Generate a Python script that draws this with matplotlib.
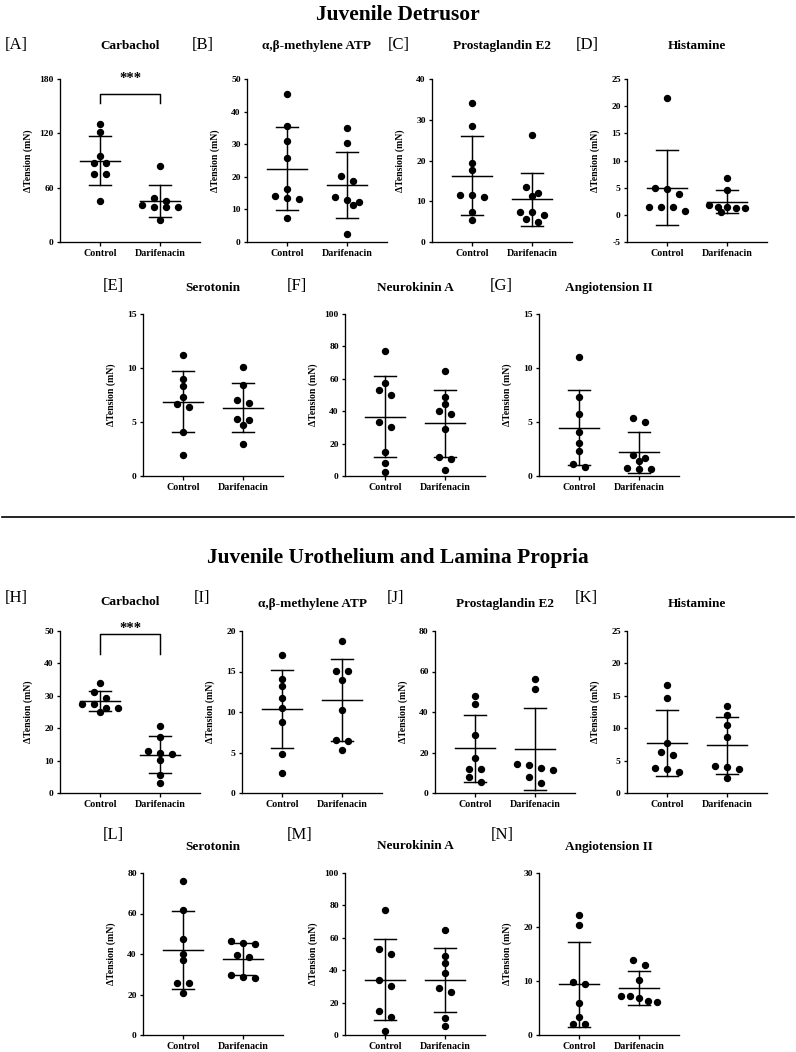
import matplotlib
matplotlib.use('Agg')
import matplotlib.pyplot as plt
from matplotlib.lines import Line2D

plt.rcParams['font.family'] = ['Liberation Serif', 'DejaVu Serif']

groups = ['Control', 'Darifenacin']

# ---- Juvenile detrusor ----
A_ctrl = [130.8, 122.0, 95.0, 87.6, 87.6, 75.4, 74.6, 45.8]
A_dari = [84.3, 48.8, 45.1, 40.6, 38.4, 38.4, 38.4, 24.8]
A_mean = [90.0, 45.1]
A_sd = [26.8, 17.4]

B_ctrl = [45.4, 35.6, 30.9, 25.8, 16.2, 14.1, 13.1, 13.4, 7.4]
B_dari = [35.0, 30.4, 20.1, 18.6, 12.9, 13.9, 11.3, 12.2, 2.4]
B_mean = [22.5, 17.5]
B_sd = [12.7, 10.05]

C_ctrl = [34.2, 28.5, 19.4, 17.7, 11.5, 11.0, 11.5, 7.4, 5.4]
C_dari = [26.2, 13.4, 12.0, 11.3, 7.4, 7.4, 6.6, 5.7, 4.9]
C_mean = [16.3, 10.5]
C_sd = [9.7, 6.55]

D_ctrl = [21.5, 4.9, 3.9, 4.75, 0.74, 1.5, 1.36, 1.5]
D_dari = [6.8, 4.6, 1.2, 1.5, 1.3, 1.36, 1.9, 0.55]
D_mean = [5.0, 2.4]
D_sd = [6.85, 2.1]

E_ctrl = [11.17, 8.98, 8.33, 7.28, 6.39, 6.67, 4.1, 1.98]
E_dari = [10.1, 8.43, 7.04, 6.76, 5.19, 5.28, 4.72, 2.93]
E_mean = [6.88, 6.33]
E_sd = [2.85, 2.25]

F_ctrl = [77.4, 57.6, 53.1, 49.8, 33.5, 30.5, 14.6, 8.2, 2.7]
F_dari = [64.8, 49.0, 44.4, 38.1, 40.3, 28.8, 11.5, 10.3, 3.7]
F_mean = [36.6, 32.5]
F_sd = [25.0, 20.6]

G_ctrl = [11.06, 7.36, 5.76, 4.03, 3.05, 2.34, 1.14, 0.86]
G_dari = [4.99, 5.39, 1.97, 1.66, 1.39, 0.68, 0.77, 0.68]
G_mean = [4.47, 2.22]
G_sd = [3.48, 1.9]

# ---- Juvenile urothelium and lamina propria ----
H_ctrl = [34.05, 31.1, 29.4, 27.6, 27.6, 25.0, 26.1, 26.2]
H_dari = [20.8, 17.2, 11.9, 12.3, 13.0, 10.3, 5.45, 3.0]
H_mean = [28.4, 11.8]
H_sd = [3.0, 5.77]

I_ctrl = [17.08, 14.1, 13.2, 11.77, 10.53, 8.72, 4.86, 2.51]
I_dari = [18.72, 15.1, 15.1, 13.9, 10.2, 6.58, 6.46, 5.27]
I_mean = [10.41, 11.44]
I_sd = [4.8, 5.05]

J_ctrl = [47.95, 43.8, 28.7, 17.1, 11.8, 11.8, 7.7, 5.6]
J_dari = [56.5, 51.4, 12.5, 14.3, 11.5, 13.6, 7.7, 5.1]
J_mean = [22.0, 21.7]
J_sd = [16.5, 20.2]

K_ctrl = [16.7, 14.6, 6.3, 7.65, 5.85, 3.9, 3.7, 3.3]
K_dari = [13.4, 12.06, 10.5, 8.57, 4.1, 4.05, 3.64, 2.26]
K_mean = [7.75, 7.34]
K_sd = [5.1, 4.36]

L_ctrl = [76.2, 61.6, 47.6, 40.2, 36.9, 25.8, 25.8, 20.5]
L_dari = [46.5, 44.8, 45.5, 39.4, 38.3, 28.1, 29.6, 28.4]
L_mean = [41.9, 37.6]
L_sd = [19.3, 7.8]

M_ctrl = [77.4, 53.0, 49.9, 33.9, 30.2, 14.8, 11.1, 2.5]
M_dari = [64.7, 48.9, 44.6, 38.4, 26.5, 29.0, 10.3, 5.7]
M_mean = [34.1, 33.7]
M_sd = [24.95, 19.8]

N_ctrl = [22.16, 20.3, 9.38, 9.88, 5.86, 3.33, 2.04, 2.04]
N_dari = [13.83, 12.96, 10.25, 6.3, 7.16, 6.79, 7.16, 6.17]
N_mean = [9.38, 8.77]
N_sd = [7.9, 3.15]

# significance brackets (bar top, arm end)
A_bracket = [163.3, 153.0]
H_bracket = [49.0, 42.8]

titles = {
    'A': 'Carbachol', 'B': 'α,β-methylene ATP', 'C': 'Prostaglandin E2',
    'D': 'Histamine', 'E': 'Serotonin', 'F': 'Neurokinin A', 'G': 'Angiotension II',
    'H': 'Carbachol', 'I': 'α,β-methylene ATP', 'J': 'Prostaglandin E2',
    'K': 'Histamine', 'L': 'Serotonin', 'M': 'Neurokinin A', 'N': 'Angiotension II',
}

yticks = {
    'A': [0, 60, 120, 180], 'B': [0, 10, 20, 30, 40, 50], 'C': [0, 10, 20, 30, 40],
    'D': [-5, 0, 5, 10, 15, 20, 25], 'E': [0, 5, 10, 15], 'F': [0, 20, 40, 60, 80, 100],
    'G': [0, 5, 10, 15], 'H': [0, 10, 20, 30, 40, 50], 'I': [0, 5, 10, 15, 20],
    'J': [0, 20, 40, 60, 80], 'K': [0, 5, 10, 15, 20, 25], 'L': [0, 20, 40, 60, 80],
    'M': [0, 20, 40, 60, 80, 100], 'N': [0, 10, 20, 30],
}

panels = {
    'A': (A_ctrl, A_dari, A_mean, A_sd), 'B': (B_ctrl, B_dari, B_mean, B_sd),
    'C': (C_ctrl, C_dari, C_mean, C_sd), 'D': (D_ctrl, D_dari, D_mean, D_sd),
    'E': (E_ctrl, E_dari, E_mean, E_sd), 'F': (F_ctrl, F_dari, F_mean, F_sd),
    'G': (G_ctrl, G_dari, G_mean, G_sd), 'H': (H_ctrl, H_dari, H_mean, H_sd),
    'I': (I_ctrl, I_dari, I_mean, I_sd), 'J': (J_ctrl, J_dari, J_mean, J_sd),
    'K': (K_ctrl, K_dari, K_mean, K_sd), 'L': (L_ctrl, L_dari, L_mean, L_sd),
    'M': (M_ctrl, M_dari, M_mean, M_sd), 'N': (N_ctrl, N_dari, N_mean, N_sd),
}

# layout in pixels: axes left, axes top, axes bottom, title y, letter x, letter y
W, H = 796, 1052
AX_W = 140
layout = {
    'A': (60, 79, 242, 46, 16, 45), 'B': (247, 79, 242, 46, 203, 45),
    'C': (432, 79, 242, 46, 399, 45), 'D': (627, 79, 242, 46, 587, 45),
    'E': (143, 314, 476, 288, 113, 286), 'F': (345, 314, 476, 288, 297, 286),
    'G': (539, 314, 476, 288, 501, 286),
    'H': (60, 631, 793, 602, 16, 598), 'I': (242, 631, 793, 604, 202, 598),
    'J': (435, 631, 793, 604, 396, 598), 'K': (627, 631, 793, 604, 586, 598),
    'L': (143, 873, 1035, 847, 113, 835), 'M': (345, 873, 1035, 846, 300, 835),
    'N': (539, 873, 1035, 847, 502, 835),
}

PX_PER_CAT = 60.0  # pixels between the two groups


def swarm(vals, ppu, step=11.8, diam=5.8, thresh=6.0):
    # rows of nearly equal values are spread sideways and centred
    order = sorted(range(len(vals)), key=lambda i: -vals[i])
    clusters = []
    for i in order:
        if clusters and (vals[clusters[-1][0]] - vals[i]) * ppu < thresh:
            clusters[-1].append(i)
        else:
            clusters.append([i])
    offs = {}
    for c in clusters:
        n = len(c)
        s = min(step, 36.0 / (n - 1)) if n > 1 else 0
        base = [(k - (n - 1) / 2) * s for k in range(n)]
        for shift in [0, step / 2, -step / 2, step, -step, 1.5 * step, -1.5 * step]:
            ok = all((base[k] + shift - offs[j]) ** 2 + ((vals[i] - vals[j]) * ppu) ** 2 >= diam ** 2
                     for k, i in enumerate(c) for j in offs)
            if ok:
                break
        for k, i in enumerate(c):
            offs[i] = base[k] + shift
    return [offs[i] / PX_PER_CAT for i in range(len(vals))]


fig = plt.figure(figsize=(W / 100, H / 100), dpi=100)


def fy(y):
    return 1 - y / H


for key, (ctrl, dari, mean, sd) in panels.items():
    left, top, bottom, ty, lx, ly = layout[key]
    ax = fig.add_axes([left / W, fy(bottom), AX_W / W, (bottom - top) / H])
    ticks = yticks[key]
    lo, hi = ticks[0], ticks[-1]
    ax.set_xlim(-40 / PX_PER_CAT, 1 + 40 / PX_PER_CAT)
    ax.set_ylim(lo, hi)
    ppu = (bottom - top) / (hi - lo)

    for gi, vals in enumerate([ctrl, dari]):
        offs = swarm(vals, ppu)
        ax.plot([gi + o for o in offs], vals, 'o', color='black', ms=4.3,
                mec='black', clip_on=False, zorder=3)
        m, s = mean[gi], sd[gi]
        ax.plot([gi - 0.333, gi + 0.333], [m, m], color='black', lw=1.05, zorder=2)
        ax.plot([gi, gi], [m - s, m + s], color='black', lw=1.05, zorder=2)
        ax.plot([gi - 0.183, gi + 0.183], [m + s, m + s], color='black', lw=1.05, zorder=2)
        ax.plot([gi - 0.183, gi + 0.183], [m - s, m - s], color='black', lw=1.05, zorder=2)

    for sp in ['top', 'right']:
        ax.spines[sp].set_visible(False)
    for sp in ['left', 'bottom']:
        ax.spines[sp].set_linewidth(0.95)

    ax.set_yticks(ticks)
    ax.set_yticklabels([str(t) for t in ticks], fontsize=6.8, fontweight='bold')
    ax.set_xticks([0, 1])
    ax.set_xticklabels(groups, fontsize=7.2, fontweight='bold')
    ax.tick_params(axis='y', length=2.3, width=0.95, pad=2.2)
    ax.tick_params(axis='x', length=2.9, width=0.95, pad=2.2)
    ax.set_ylabel('ΔTension (mN)', fontsize=7, fontweight='bold')
    ax.yaxis.set_label_coords(-27 / AX_W, 0.5)

    fig.text((left + AX_W / 2) / W, fy(ty), titles[key], ha='center', va='center',
             fontsize=9.5, fontweight='bold')
    fig.text(lx / W, fy(ly), '[' + key + ']', ha='center', va='center', fontsize=12)

    if key in ('A', 'H'):
        bar_top, bar_end = A_bracket if key == 'A' else H_bracket
        ax.plot([0, 0, 1, 1], [bar_end, bar_top, bar_top, bar_end], color='black',
                lw=1.05, clip_on=False)
        ax.annotate('***', xy=(0.5, bar_top), xytext=(0, 11.5 if key == 'A' else 4),
                    textcoords='offset points', ha='center', va='center',
                    fontsize=10.5, fontweight='bold', annotation_clip=False)

fig.text(0.5, fy(15), 'Juvenile Detrusor', ha='center', va='center',
         fontsize=15.5, fontweight='bold')
fig.text(0.5, fy(558), 'Juvenile Urothelium and Lamina Propria', ha='center',
         va='center', fontsize=15.5, fontweight='bold')
fig.add_artist(Line2D([0.002, 0.997], [fy(517), fy(517)], transform=fig.transFigure,
                      color='black', lw=1.2))

fig.savefig('out.png', dpi=100)
